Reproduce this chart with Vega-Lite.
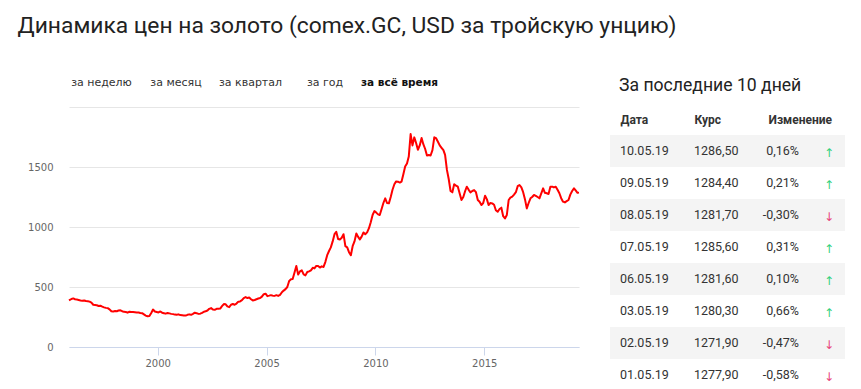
{
  "$schema": "https://vega.github.io/schema/vega-lite/v6.json",
  "padding": {"left": 17, "top": 15, "right": 5, "bottom": 0},
  "background": "white",
  "title": {
    "text": "Динамика цен на золото (comex.GC, USD за тройскую унцию)",
    "anchor": "start", "font": "Roboto", "fontSize": 22.8, "fontWeight": "normal",
    "color": "#222222", "dx": -10, "offset": 35
  },
  "config": {
    "view": {"stroke": null},
    "locale": {"number": {"decimal": ",", "thousands": " ", "grouping": [3], "currency": ["", ""], "minus": "-"}}
  },
  "spacing": 30,
  "hconcat": [
    {
      "spacing": 14,
      "vconcat": [
        {
          "width": 363, "height": 20,
          "data": {"values": [
            {"tab": "за неделю"}, {"tab": "за месяц"}, {"tab": "за квартал"}, {"tab": "за год"}, {"tab": "за всё время"}
          ]},
          "encoding": {
            "x": {"field": "tab", "type": "nominal", "sort": null,
                  "scale": {"type": "point", "domain": ["за неделю", "за месяц", "за квартал", "за год", "за всё время"], "padding": 0.436}, "axis": null},
            "text": {"field": "tab"}
          },
          "layer": [
            {
              "transform": [{"filter": "datum.tab !== 'за всё время'"}],
              "mark": {"type": "text", "align": "center", "baseline": "middle", "font": "DejaVu Sans", "fontSize": 11, "color": "#333333"}
            },
            {
              "transform": [{"filter": "datum.tab === 'за всё время'"}],
              "mark": {"type": "text", "align": "center", "baseline": "middle", "font": "DejaVu Sans", "fontSize": 10.5, "fontWeight": "bold", "color": "#111111"}
            }
          ]
        },
        {
          "width": 510, "height": 240,
          "data": {"values": [
            {"d":"1995-12-05","p":388},
            {"d":"1996-01-15","p":400},{"d":"1996-02-15","p":405},{"d":"1996-03-15","p":398},{"d":"1996-04-15","p":395},{"d":"1996-05-15","p":392},{"d":"1996-06-15","p":388},{"d":"1996-07-15","p":386},{"d":"1996-08-15","p":388},{"d":"1996-09-15","p":383},{"d":"1996-10-15","p":382},{"d":"1996-11-15","p":378},{"d":"1996-12-15","p":370},
            {"d":"1997-01-15","p":352},{"d":"1997-02-15","p":350},{"d":"1997-03-15","p":348},{"d":"1997-04-15","p":342},{"d":"1997-05-15","p":344},{"d":"1997-06-15","p":336},{"d":"1997-07-15","p":330},{"d":"1997-08-15","p":326},{"d":"1997-09-15","p":324},{"d":"1997-10-15","p":314},{"d":"1997-11-15","p":298},{"d":"1997-12-15","p":295},
            {"d":"1998-01-15","p":300},{"d":"1998-02-15","p":298},{"d":"1998-03-15","p":304},{"d":"1998-04-15","p":306},{"d":"1998-05-15","p":298},{"d":"1998-06-15","p":293},{"d":"1998-07-15","p":292},{"d":"1998-08-15","p":286},{"d":"1998-09-15","p":294},{"d":"1998-10-15","p":292},{"d":"1998-11-15","p":292},{"d":"1998-12-15","p":290},
            {"d":"1999-01-15","p":288},{"d":"1999-02-15","p":288},{"d":"1999-03-15","p":284},{"d":"1999-04-15","p":282},{"d":"1999-05-15","p":272},{"d":"1999-06-15","p":262},{"d":"1999-07-15","p":256},{"d":"1999-08-15","p":258},{"d":"1999-09-15","p":284},{"d":"1999-10-15","p":312},{"d":"1999-11-15","p":296},{"d":"1999-12-15","p":292},
            {"d":"2000-01-15","p":288},{"d":"2000-02-15","p":296},{"d":"2000-03-15","p":286},{"d":"2000-04-15","p":282},{"d":"2000-05-15","p":278},{"d":"2000-06-15","p":284},{"d":"2000-07-15","p":280},{"d":"2000-08-15","p":276},{"d":"2000-09-15","p":274},{"d":"2000-10-15","p":270},{"d":"2000-11-15","p":268},{"d":"2000-12-15","p":272},
            {"d":"2001-01-15","p":266},{"d":"2001-02-15","p":264},{"d":"2001-03-15","p":262},{"d":"2001-04-15","p":262},{"d":"2001-05-15","p":268},{"d":"2001-06-15","p":272},{"d":"2001-07-15","p":268},{"d":"2001-08-15","p":276},{"d":"2001-09-15","p":286},{"d":"2001-10-15","p":282},{"d":"2001-11-15","p":276},{"d":"2001-12-15","p":278},
            {"d":"2002-01-15","p":284},{"d":"2002-02-15","p":294},{"d":"2002-03-15","p":298},{"d":"2002-04-15","p":304},{"d":"2002-05-15","p":318},{"d":"2002-06-15","p":324},{"d":"2002-07-15","p":312},{"d":"2002-08-15","p":310},{"d":"2002-09-15","p":318},{"d":"2002-10-15","p":318},{"d":"2002-11-15","p":320},{"d":"2002-12-15","p":340},
            {"d":"2003-01-15","p":358},{"d":"2003-02-15","p":356},{"d":"2003-03-15","p":338},{"d":"2003-04-15","p":332},{"d":"2003-05-15","p":352},{"d":"2003-06-15","p":358},{"d":"2003-07-15","p":352},{"d":"2003-08-15","p":362},{"d":"2003-09-15","p":378},{"d":"2003-10-15","p":380},{"d":"2003-11-15","p":390},{"d":"2003-12-15","p":408},
            {"d":"2004-01-15","p":416},{"d":"2004-02-15","p":408},{"d":"2004-03-15","p":412},{"d":"2004-04-15","p":398},{"d":"2004-05-15","p":388},{"d":"2004-06-15","p":392},{"d":"2004-07-15","p":398},{"d":"2004-08-15","p":404},{"d":"2004-09-15","p":408},{"d":"2004-10-15","p":420},{"d":"2004-11-15","p":440},{"d":"2004-12-15","p":444},
            {"d":"2005-01-15","p":424},{"d":"2005-02-15","p":428},{"d":"2005-03-15","p":432},{"d":"2005-04-15","p":428},{"d":"2005-05-15","p":426},{"d":"2005-06-15","p":432},{"d":"2005-07-15","p":426},{"d":"2005-08-15","p":434},{"d":"2005-09-15","p":456},{"d":"2005-10-15","p":470},{"d":"2005-11-15","p":482},{"d":"2005-12-15","p":500},
            {"d":"2006-01-15","p":550},{"d":"2006-02-15","p":564},{"d":"2006-03-15","p":566},{"d":"2006-04-15","p":620},{"d":"2006-05-15","p":675},{"d":"2006-06-15","p":603},{"d":"2006-07-15","p":630},{"d":"2006-08-15","p":639},{"d":"2006-09-15","p":605},{"d":"2006-10-15","p":597},{"d":"2006-11-15","p":625},{"d":"2006-12-15","p":630},
            {"d":"2007-01-15","p":639},{"d":"2007-02-15","p":660},{"d":"2007-03-15","p":655},{"d":"2007-04-15","p":676},{"d":"2007-05-15","p":675},{"d":"2007-06-15","p":662},{"d":"2007-07-15","p":672},{"d":"2007-08-15","p":667},{"d":"2007-09-15","p":710},{"d":"2007-10-15","p":765},{"d":"2007-11-15","p":800},{"d":"2007-12-15","p":830},
            {"d":"2008-01-15","p":880},{"d":"2008-02-15","p":940},{"d":"2008-03-15","p":960},{"d":"2008-04-15","p":900},{"d":"2008-05-15","p":896},{"d":"2008-06-15","p":910},{"d":"2008-07-15","p":940},{"d":"2008-08-15","p":840},{"d":"2008-09-15","p":830},{"d":"2008-10-15","p":790},{"d":"2008-11-15","p":765},{"d":"2008-12-15","p":840},
            {"d":"2009-01-15","p":880},{"d":"2009-02-15","p":946},{"d":"2009-03-15","p":920},{"d":"2009-04-15","p":896},{"d":"2009-05-15","p":920},{"d":"2009-06-15","p":954},{"d":"2009-07-15","p":940},{"d":"2009-08-15","p":955},{"d":"2009-09-15","p":990},{"d":"2009-10-15","p":1040},{"d":"2009-11-15","p":1100},{"d":"2009-12-15","p":1133},
            {"d":"2010-01-15","p":1120},{"d":"2010-02-15","p":1105},{"d":"2010-03-15","p":1100},{"d":"2010-04-15","p":1150},{"d":"2010-05-15","p":1200},{"d":"2010-06-15","p":1239},{"d":"2010-07-15","p":1200},{"d":"2010-08-15","p":1197},{"d":"2010-09-15","p":1250},{"d":"2010-10-15","p":1310},{"d":"2010-11-15","p":1356},{"d":"2010-12-15","p":1380},
            {"d":"2011-01-15","p":1378},{"d":"2011-02-15","p":1370},{"d":"2011-03-15","p":1378},{"d":"2011-04-15","p":1440},{"d":"2011-05-15","p":1504},{"d":"2011-06-15","p":1530},{"d":"2011-07-15","p":1587},{"d":"2011-08-15","p":1774},{"d":"2011-09-15","p":1680},{"d":"2011-10-15","p":1747},{"d":"2011-11-15","p":1700},{"d":"2011-12-15","p":1643},
            {"d":"2012-01-15","p":1680},{"d":"2012-02-15","p":1741},{"d":"2012-03-15","p":1690},{"d":"2012-04-15","p":1650},{"d":"2012-05-15","p":1596},{"d":"2012-06-15","p":1600},{"d":"2012-07-15","p":1596},{"d":"2012-08-15","p":1640},{"d":"2012-09-15","p":1747},{"d":"2012-10-15","p":1740},{"d":"2012-11-15","p":1710},{"d":"2012-12-15","p":1680},
            {"d":"2013-01-15","p":1660},{"d":"2013-02-15","p":1640},{"d":"2013-03-15","p":1601},{"d":"2013-04-15","p":1476},{"d":"2013-05-15","p":1400},{"d":"2013-06-15","p":1300},{"d":"2013-07-15","p":1289},{"d":"2013-08-15","p":1356},{"d":"2013-09-15","p":1345},{"d":"2013-10-15","p":1336},{"d":"2013-11-15","p":1280},{"d":"2013-12-15","p":1225},
            {"d":"2014-01-15","p":1250},{"d":"2014-02-15","p":1300},{"d":"2014-03-15","p":1336},{"d":"2014-04-15","p":1310},{"d":"2014-05-15","p":1289},{"d":"2014-06-15","p":1300},{"d":"2014-07-15","p":1308},{"d":"2014-08-15","p":1290},{"d":"2014-09-15","p":1225},{"d":"2014-10-15","p":1210},{"d":"2014-11-15","p":1183},{"d":"2014-12-15","p":1200},
            {"d":"2015-01-15","p":1261},{"d":"2015-02-15","p":1230},{"d":"2015-03-15","p":1183},{"d":"2015-04-15","p":1200},{"d":"2015-05-15","p":1197},{"d":"2015-06-15","p":1185},{"d":"2015-07-15","p":1140},{"d":"2015-08-15","p":1127},{"d":"2015-09-15","p":1150},{"d":"2015-10-15","p":1161},{"d":"2015-11-15","p":1090},{"d":"2015-12-15","p":1071},
            {"d":"2016-01-15","p":1100},{"d":"2016-02-15","p":1225},{"d":"2016-03-15","p":1245},{"d":"2016-04-15","p":1253},{"d":"2016-05-15","p":1270},{"d":"2016-06-15","p":1290},{"d":"2016-07-15","p":1340},{"d":"2016-08-15","p":1350},{"d":"2016-09-15","p":1330},{"d":"2016-10-15","p":1290},{"d":"2016-11-15","p":1230},{"d":"2016-12-15","p":1155},
            {"d":"2017-01-15","p":1200},{"d":"2017-02-15","p":1239},{"d":"2017-03-15","p":1250},{"d":"2017-04-15","p":1267},{"d":"2017-05-15","p":1260},{"d":"2017-06-15","p":1250},{"d":"2017-07-15","p":1239},{"d":"2017-08-15","p":1280},{"d":"2017-09-15","p":1322},{"d":"2017-10-15","p":1285},{"d":"2017-11-15","p":1281},{"d":"2017-12-15","p":1275},
            {"d":"2018-01-15","p":1336},{"d":"2018-02-15","p":1336},{"d":"2018-03-15","p":1330},{"d":"2018-04-15","p":1336},{"d":"2018-05-15","p":1310},{"d":"2018-06-15","p":1281},{"d":"2018-07-15","p":1240},{"d":"2018-08-15","p":1211},{"d":"2018-09-15","p":1205},{"d":"2018-10-15","p":1215},{"d":"2018-11-15","p":1225},{"d":"2018-12-15","p":1270},
            {"d":"2019-01-15","p":1300},{"d":"2019-02-15","p":1322},{"d":"2019-03-15","p":1305},{"d":"2019-04-15","p":1285},{"d":"2019-05-10","p":1286.5}
          ]},
          "mark": {"type": "line", "color": "#ff0000", "strokeWidth": 2, "strokeJoin": "round"},
          "encoding": {
            "x": {"field": "d", "type": "temporal", "scale": {"nice": false},
                  "axis": {"values": [{"year": 2000}, {"year": 2005}, {"year": 2010}, {"year": 2015}],
                           "format": "%Y", "title": null, "grid": false,
                           "domainColor": "#ccd6eb", "tickColor": "#ccd6eb", "tickSize": 8, "labelPadding": 3,
                           "labelFont": "DejaVu Sans", "labelFontSize": 10, "labelColor": "#666666"}},
            "y": {"field": "p", "type": "quantitative", "scale": {"domain": [0, 2000], "nice": false},
                  "axis": {"values": [0, 500, 1000, 1500, 2000], "format": "d",
                           "labelExpr": "datum.value == 2000 ? '' : datum.label",
                           "title": null, "domain": false, "ticks": false, "labelPadding": 16,
                           "gridColor": "#e6e6e6", "labelFont": "DejaVu Sans", "labelFontSize": 10, "labelColor": "#666666"}}
          }
        }
      ]
    },
    {
      "spacing": 18,
      "vconcat": [
        {
          "width": 235, "height": 20,
          "data": {"values": [{"heading": "За последние 10 дней"}]},
          "mark": {"type": "text", "align": "left", "baseline": "middle", "dx": 9, "dy": 3, "font": "Roboto", "fontSize": 17.6, "color": "#222222"},
          "encoding": {
            "x": {"value": 0},
            "text": {"field": "heading"}
          }
        },
        {
          "width": 235, "height": 256,
          "data": {"values": [
            {"date": "10.05.19", "price": 1286.5, "change": 0.0016},
            {"date": "09.05.19", "price": 1284.4, "change": 0.0021},
            {"date": "08.05.19", "price": 1281.7, "change": -0.0030},
            {"date": "07.05.19", "price": 1285.6, "change": 0.0031},
            {"date": "06.05.19", "price": 1281.6, "change": 0.0010},
            {"date": "03.05.19", "price": 1280.3, "change": 0.0066},
            {"date": "02.05.19", "price": 1271.9, "change": -0.0047},
            {"date": "01.05.19", "price": 1277.9, "change": -0.0058}
          ]},
          "encoding": {
            "y": {"field": "date", "type": "nominal", "sort": null,
                  "scale": {"domain": ["10.05.19", "09.05.19", "08.05.19", "07.05.19", "06.05.19", "03.05.19", "02.05.19", "01.05.19"],
                            "paddingInner": 0, "paddingOuter": 0}, "axis": null}
          },
          "layer": [
            {
              "transform": [{"window": [{"op": "row_number", "as": "rn"}]}, {"filter": "datum.rn % 2 == 1"}],
              "mark": {"type": "bar", "color": "#f4f4f4"}
            },
            {
              "mark": {"type": "text", "align": "left", "baseline": "middle", "font": "Roboto", "fontSize": 12.5, "color": "#333333"},
              "encoding": {
                "x": {"datum": "Дата", "type": "nominal",
                      "scale": {"type": "point", "domain": ["Дата", "Курс", "Изменение"], "padding": 0.588, "align": 0.115},
                      "axis": {"orient": "top", "title": null, "domain": false, "ticks": false, "grid": false,
                               "labelAngle": 0, "labelAlign": "left", "labelBaseline": "middle", "labelPadding": 16,
                               "labelFont": "Roboto", "labelFontSize": 12, "labelFontWeight": "bold", "labelColor": "#333333"}},
                "text": {"field": "date"}
              }
            },
            {
              "mark": {"type": "text", "align": "left", "baseline": "middle", "font": "Roboto", "fontSize": 12.5, "color": "#333333"},
              "encoding": {
                "x": {"datum": "Курс", "type": "nominal"},
                "text": {"field": "price", "type": "quantitative", "format": ".2f"}
              }
            },
            {
              "mark": {"type": "text", "align": "right", "baseline": "middle", "dx": 31, "font": "Roboto", "fontSize": 12.5, "color": "#333333"},
              "encoding": {
                "x": {"datum": "Изменение", "type": "nominal"},
                "text": {"field": "change", "type": "quantitative", "format": ".2%"}
              }
            },
            {
              "mark": {"type": "text", "align": "center", "baseline": "middle", "dx": 61, "dy": 2, "font": "DejaVu Sans", "fontSize": 12},
              "encoding": {
                "x": {"datum": "Изменение", "type": "nominal"},
                "text": {"condition": {"test": "datum.change > 0", "value": "↑"}, "value": "↓"},
                "color": {"condition": {"test": "datum.change > 0", "value": "#33d17a"}, "value": "#e8457a"}
              }
            }
          ]
        }
      ]
    }
  ]
}
